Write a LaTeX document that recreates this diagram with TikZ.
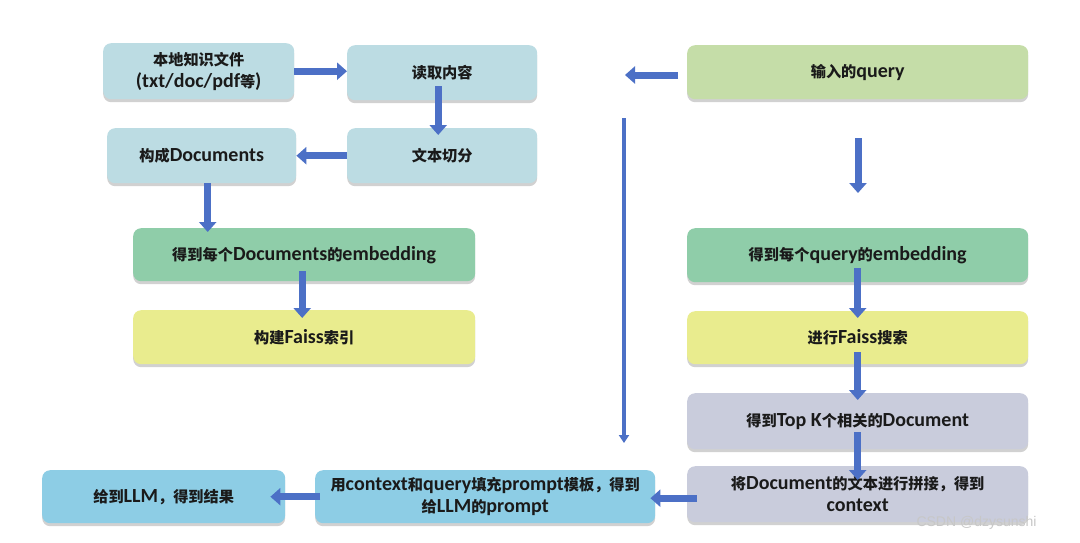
\documentclass[tikz,border=0pt]{standalone}
\usepackage{fontspec}
\setmainfont{Carlito}
\newfontfamily\cjk{Noto Sans CJK SC}[Scale=0.76]
\newfontfamily\wmfont{Liberation Sans}
\newcommand{\zhtext}[1]{{\cjk #1}}
\usetikzlibrary{arrows.meta,shadows,calc}
\definecolor{cBlueGray}{HTML}{BCDCE3}
\definecolor{cGreen}{HTML}{8FCDA9}
\definecolor{cYellow}{HTML}{E9EC8E}
\definecolor{cQuery}{HTML}{C5DDA8}
\definecolor{cLav}{HTML}{C9CCDC}
\definecolor{cSky}{HTML}{8DCDE5}
\definecolor{cArrow}{HTML}{4C70C6}
\definecolor{cText}{HTML}{1A1A1A}
\begin{document}
\begin{tikzpicture}[x=1pt,y=-1pt,
  box/.style={anchor=north west, rounded corners=8pt, inner sep=2pt, align=center,
    text=cText, font=\fontsize{20}{22}\selectfont\bfseries,
    drop shadow={shadow xshift=0pt, shadow yshift=-3pt, opacity=0.18, fill=black}},
  arr/.style={draw=cArrow, line width=7pt, -{Triangle[width=17pt,length=10pt]}},
  thinarr/.style={draw=cArrow, line width=4.5pt, -{Triangle[width=10pt,length=8pt]}},
  wm/.style={anchor=west, text=black!22, font=\wmfont\fontsize{14}{16}\selectfont}
]
\useasboundingbox (0,0) rectangle (1080,542);
\fill[white] (0,0) rectangle (1080,542);

% left column
\node[box, fill=cBlueGray, minimum width=191pt, minimum height=56pt] (b1) at (103,43)
  {\zhtext{本地知识文件}\\(txt/doc/pdf\zhtext{等})};
\node[box, fill=cBlueGray, minimum width=190pt, minimum height=55pt] (b2) at (347,45)
  {\zhtext{读取内容}};
\node[box, fill=cBlueGray, minimum width=189pt, minimum height=55pt] (b3) at (107,128)
  {\zhtext{构成}Documents};
\node[box, fill=cBlueGray, minimum width=190pt, minimum height=55pt] (b4) at (347,128)
  {\zhtext{文本切分}};
\node[box, fill=cGreen, minimum width=342pt, minimum height=53pt] (b5) at (133,228)
  {\zhtext{得到每个}Documents\zhtext{的}embedding};
\node[box, fill=cYellow, minimum width=342pt, minimum height=54pt] (b6) at (133,310)
  {\zhtext{构建}Faiss\zhtext{索引}};

% right column
\node[box, fill=cQuery, minimum width=341pt, minimum height=54pt] (b7) at (687,45)
  {\zhtext{输入的}query};
\node[box, fill=cGreen, minimum width=341pt, minimum height=54pt] (b8) at (687,228)
  {\zhtext{得到每个}query\zhtext{的}embedding};
\node[box, fill=cYellow, minimum width=341pt, minimum height=53pt] (b9) at (687,311)
  {\zhtext{进行}Faiss\zhtext{搜索}};
\node[box, fill=cLav, minimum width=341pt, minimum height=56pt] (b10) at (687,393)
  {\zhtext{得到}Top K\zhtext{个相关的}Document};
\node[box, fill=cLav, minimum width=341pt, minimum height=56pt] (b11) at (687,466)
  {\zhtext{将}Document\zhtext{的文本进行拼接，得到}\\context};

% bottom row
\node[box, fill=cSky, minimum width=340pt, minimum height=53pt] (b12) at (315,470)
  {\zhtext{用}context\zhtext{和}query\zhtext{填充}prompt\zhtext{模板，得到}\\\zhtext{给}LLM\zhtext{的}prompt};
\node[box, fill=cSky, minimum width=243pt, minimum height=53pt] (b13) at (42,470)
  {\zhtext{给到}LLM\zhtext{，得到结果}};

% free coordinates
\coordinate (qL) at (625,75);
\coordinate (vT) at (624,118);
\coordinate (vB) at (624,443);
\coordinate (dT) at (858,138);
\coordinate (dB) at (858,193);

% connectors
\draw[arr] (b1.east) -- (b1.east -| b2.west);
\draw[arr] ([xshift=-4pt,yshift=14pt]b2.south) -- ([xshift=-4pt,yshift=-7pt]b2.south |- b4.north);
\draw[arr] (b4.west) -- (b4.west -| b3.east);
\draw[arr] ([xshift=6pt]b3.south) -- ([xshift=6pt,yshift=-4pt]b3.south |- b5.north);
\draw[arr] ([xshift=-2pt,yshift=10pt]b5.south) -- ([xshift=-2pt,yshift=-8pt]b5.south |- b6.north);

\draw[arr] ([xshift=-9pt]b7.west |- qL) -- (qL);
\draw[thinarr] (vT) -- (vB);
\draw[arr] (dT) -- (dB);
\draw[arr] ([yshift=14pt]b8.south) -- ([yshift=-7pt]b9.north);
\draw[arr] ([yshift=12pt]b9.south) -- ([yshift=-7pt]b10.north);
\draw[arr] ([yshift=17pt]b10.south) -- ([yshift=-14pt]b11.north);
\draw[arr] ([xshift=10pt,yshift=-4pt]b11.west) -- ([xshift=-5pt,yshift=-4pt]b11.west -| b12.east);
\draw[arr] ([xshift=5pt]b12.west) -- ([xshift=-15pt]b12.west -| b13.east);

% watermark
\node[wm] (wmark) at (913,523) {CSDN @dzysunshi};
\end{tikzpicture}
\end{document}
